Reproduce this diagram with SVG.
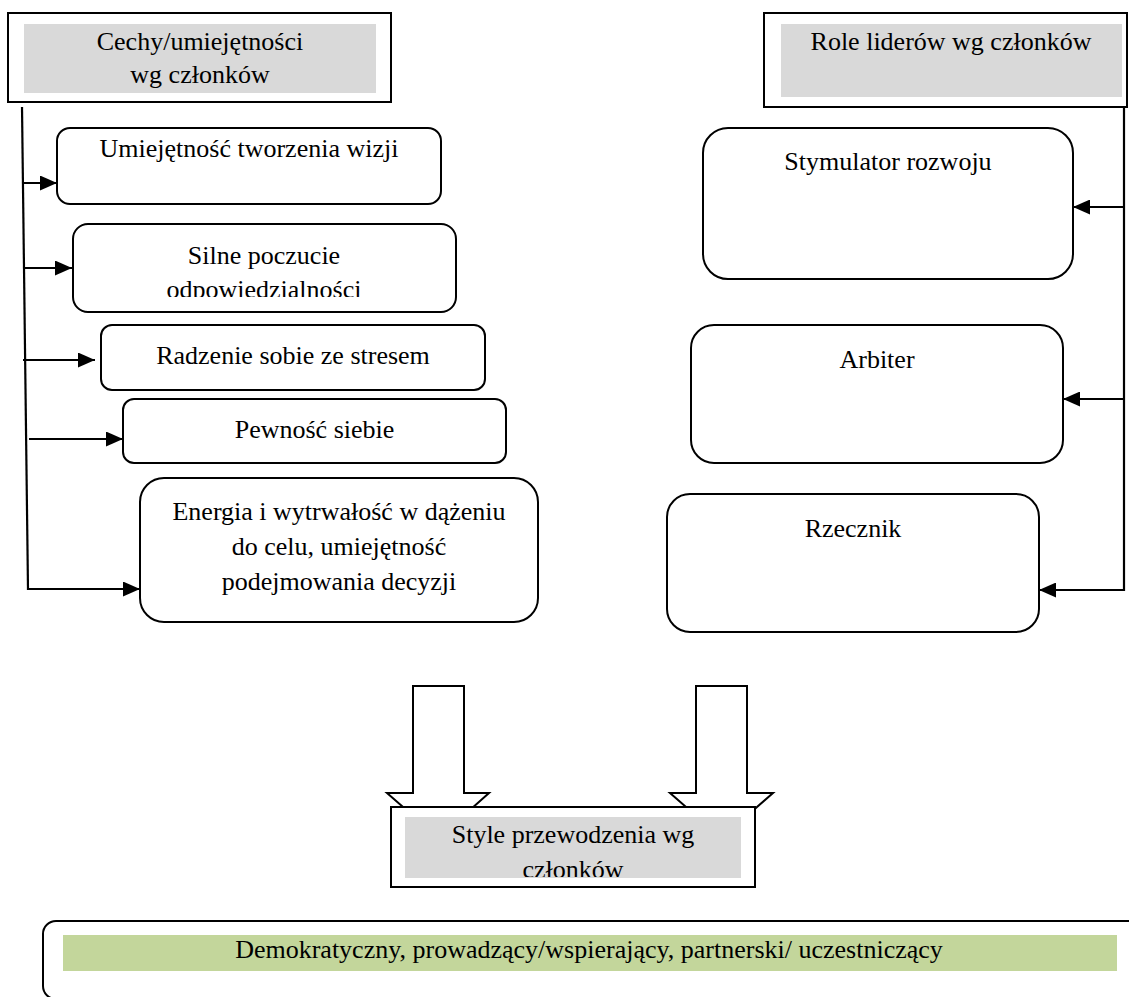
<svg xmlns="http://www.w3.org/2000/svg" width="1129" height="997" viewBox="0 0 1129 997">
  <style>
    .lbl { font-family: "Liberation Serif", "Times New Roman", serif; font-size: 26px; fill: #000; text-anchor: middle; }
    .frame { fill: #fff; stroke: #000; stroke-width: 2; }
    .card { fill: #fff; stroke: #000; stroke-width: 2; }
    .band { fill: #d9d9d9; }
    .green { fill: #c3d69b; }
    .wire { fill: none; stroke: #000; stroke-width: 2.2; }
    .block { fill: #fff; stroke: #000; stroke-width: 2; stroke-linejoin: miter; }
  </style>
  <defs>
    <marker id="head" markerUnits="userSpaceOnUse" markerWidth="17" markerHeight="15" refX="17" refY="7.5" orient="auto">
      <path d="M0,0 L17,7.5 L0,15 z" fill="#000"/>
    </marker>
    <clipPath id="clip-silne"><rect x="73" y="224" width="383" height="73"/></clipPath>
    <clipPath id="clip-style"><rect x="405" y="817" width="336" height="60"/></clipPath>
  </defs>

  <!-- Header: traits / skills -->
  <g id="cechy">
    <rect class="frame" x="8" y="13" width="383" height="89"/>
    <rect class="band" x="24" y="24" width="352" height="69"/>
    <text class="lbl" x="200" y="50">Cechy/umiejętności</text>
    <text class="lbl" x="200" y="83">wg członków</text>
  </g>

  <!-- Header: leader roles -->
  <g id="role">
    <rect class="frame" x="764" y="13" width="363" height="94"/>
    <rect class="band" x="781" y="24" width="341" height="73"/>
    <text class="lbl" x="951" y="50">Role liderów wg członków</text>
  </g>

  <!-- Traits -->
  <g id="wizja">
    <rect class="card" x="57" y="128" width="384" height="76" rx="13"/>
    <text class="lbl" x="249" y="157">Umiejętność tworzenia wizji</text>
  </g>
  <g id="odpowiedzialnosc">
    <rect class="card" x="73" y="224" width="383" height="88" rx="15"/>
    <g clip-path="url(#clip-silne)">
      <text class="lbl" x="264" y="264">Silne poczucie</text>
      <text class="lbl" x="264" y="298">odpowiedzialności</text>
    </g>
  </g>
  <g id="stres">
    <rect class="card" x="101" y="325" width="384" height="65" rx="11"/>
    <text class="lbl" x="293" y="364">Radzenie sobie ze stresem</text>
  </g>
  <g id="pewnosc">
    <rect class="card" x="123" y="399" width="383" height="64" rx="11"/>
    <text class="lbl" x="314.5" y="438">Pewność siebie</text>
  </g>
  <g id="energia">
    <rect class="card" x="140" y="478" width="398" height="144" rx="24"/>
    <text class="lbl" x="339" y="520">Energia i wytrwałość w dążeniu</text>
    <text class="lbl" x="339" y="555">do celu, umiejętność</text>
    <text class="lbl" x="339" y="590">podejmowania decyzji</text>
  </g>

  <!-- Roles -->
  <g id="stymulator">
    <rect class="card" x="703" y="128" width="370" height="151" rx="25"/>
    <text class="lbl" x="888" y="170">Stymulator rozwoju</text>
  </g>
  <g id="arbiter">
    <rect class="card" x="691" y="325" width="372" height="138" rx="23"/>
    <text class="lbl" x="877" y="368">Arbiter</text>
  </g>
  <g id="rzecznik">
    <rect class="card" x="667" y="494" width="372" height="138" rx="23"/>
    <text class="lbl" x="853" y="537">Rzecznik</text>
  </g>

  <!-- Connectors -->
  <g id="connectors">
    <line class="wire" x1="22" y1="107" x2="28" y2="590"/>
    <line class="wire" x1="23" y1="183" x2="57" y2="183" marker-end="url(#head)"/>
    <line class="wire" x1="23" y1="268" x2="72" y2="268" marker-end="url(#head)"/>
    <line class="wire" x1="23" y1="360" x2="95" y2="360" marker-end="url(#head)"/>
    <line class="wire" x1="29" y1="439" x2="123" y2="439" marker-end="url(#head)"/>
    <line class="wire" x1="28" y1="589" x2="140" y2="589" marker-end="url(#head)"/>

    <line class="wire" x1="1124" y1="107" x2="1124" y2="591"/>
    <line class="wire" x1="1125" y1="207" x2="1073" y2="207" marker-end="url(#head)"/>
    <line class="wire" x1="1125" y1="399" x2="1063" y2="399" marker-end="url(#head)"/>
    <line class="wire" x1="1125" y1="590" x2="1039" y2="590" marker-end="url(#head)"/>

    <!-- block arrows into the styles box -->
    <path class="block" d="M413,686 H464 V793 H489 L438.5,838 L387,793 H413 Z"/>
    <path class="block" d="M696,686 H747 V793 H773 L721.5,838 L670,793 H696 Z"/>
  </g>

  <!-- Leadership styles -->
  <g id="style">
    <rect class="frame" x="391" y="807" width="364" height="80"/>
    <rect class="band" x="405" y="817" width="336" height="61"/>
    <g clip-path="url(#clip-style)">
      <text class="lbl" x="573" y="843">Style przewodzenia wg</text>
      <text class="lbl" x="573" y="878">członków</text>
    </g>
  </g>

  <!-- Resulting styles -->
  <g id="wynik">
    <rect class="card" x="43" y="921" width="1100" height="78" rx="13"/>
    <rect class="green" x="63" y="935" width="1054" height="36"/>
    <text class="lbl" x="589" y="958">Demokratyczny, prowadzący/wspierający, partnerski/ uczestniczący</text>
  </g>
</svg>
